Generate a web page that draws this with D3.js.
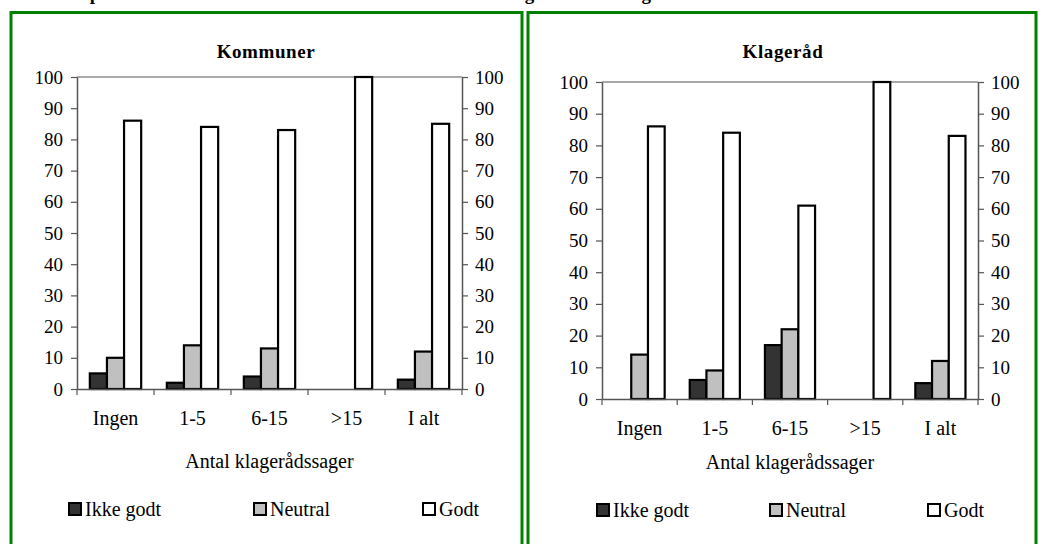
<!DOCTYPE html>
<html>
<head>
<meta charset="utf-8">
<script src="https://cdn.jsdelivr.net/npm/d3@7"></script>
<style>
  html, body { margin: 0; padding: 0; background: #fff; }
  svg { display: block; }
  text { font-family: "Liberation Serif", "Times New Roman", serif; fill: #000; }
</style>
</head>
<body>
<div id="chart"></div>
<script>
// data
const categories = ['Ingen', '1-5', '6-15', '>15', 'I alt'];
const seriesNames = ['Ikke godt', 'Neutral', 'Godt'];
const yTicks = [0, 10, 20, 30, 40, 50, 60, 70, 80, 90, 100];

const kommunerIkkeGodt = [5, 2, 4, 0, 3];
const kommunerNeutral = [10, 14, 13, 0, 12];
const kommunerGodt = [86, 84, 83, 100, 85];

const klageraadIkkeGodt = [0, 6, 17, 0, 5];
const klageraadNeutral = [14, 9, 22, 0, 12];
const klageraadGodt = [86, 84, 61, 100, 83];

const colors = d3.scaleOrdinal().domain(seriesNames).range(['#333333', '#c0c0c0', '#ffffff']);

const width = 1040, height = 544;

const svg = d3.select('#chart').append('svg')
    .attr('width', width)
    .attr('height', height);

// overskrift, skåret af i toppen som i originalen (kun underlængder ses)
svg.append('text')
    .attr('x', 75)
    .attr('y', 0)
    .style('font-weight', 'bold')
    .style('font-size', '19px')
    .text('Opfattelse af kontakten mellem de enkelte kommuner og de lokale klageråd');

const panels = [
    {
        title: 'Kommuner',
        series: [kommunerIkkeGodt, kommunerNeutral, kommunerGodt],
        box: { x: 11, y: 12.5, w: 511 },
        plot: { left: 77, right: 462, top: 77, bottom: 389 },
        titleX: 266, labelY: 425, axisTitleY: 468,
        legendX: [68, 253, 422], legendY: 502
    },
    {
        title: 'Klageråd',
        series: [klageraadIkkeGodt, klageraadNeutral, klageraadGodt],
        box: { x: 528, y: 12.5, w: 508 },
        plot: { left: 602, right: 978, top: 82, bottom: 399 },
        titleX: 783, labelY: 435, axisTitleY: 469,
        legendX: [596, 769, 927], legendY: 503
    }
];

function drawPanel (p) {
    const g = svg.append('g');

    // grøn ramme
    g.append('rect')
        .attr('x', p.box.x)
        .attr('y', p.box.y)
        .attr('width', p.box.w)
        .attr('height', 600)
        .attr('fill', 'none')
        .attr('stroke', '#008000')
        .attr('stroke-width', 3);

    g.append('text')
        .attr('x', p.titleX)
        .attr('y', 58)
        .attr('text-anchor', 'middle')
        .style('font-weight', 'bold')
        .style('font-size', '19px')
        .style('letter-spacing', '0.6px')
        .text(p.title);

    const x = d3.scaleBand()
        .domain(categories)
        .range([p.plot.left, p.plot.right]);
    const x1 = d3.scaleBand()
        .domain(seriesNames)
        .range([0, x.bandwidth()])
        .paddingInner(0)
        .paddingOuter(0.75);
    const y = d3.scaleLinear()
        .domain([0, 100])
        .range([p.plot.bottom, p.plot.top]);

    // top kant af plotområdet
    g.append('line')
        .attr('x1', p.plot.left).attr('x2', p.plot.right)
        .attr('y1', p.plot.top).attr('y2', p.plot.top)
        .attr('stroke', '#8c8c8c')
        .attr('stroke-width', 1.5);

    // søjler
    const rows = [];
    seriesNames.forEach((s, si) => {
        categories.forEach((c, ci) => {
            rows.push({ serie: s, cat: c, value: p.series[si][ci] });
        });
    });
    g.selectAll('rect.bar')
        .data(rows.filter(d => d.value > 0))
        .enter()
        .append('rect')
        .attr('class', 'bar')
        .attr('x', d => x(d.cat) + x1(d.serie))
        .attr('y', d => y(d.value))
        .attr('width', x1.bandwidth())
        .attr('height', d => y(0) - y(d.value))
        .attr('fill', d => colors(d.serie))
        .attr('stroke', '#000')
        .attr('stroke-width', 2.2);

    // y-akser
    const left = g.append('g')
        .attr('transform', `translate(${p.plot.left},0)`)
        .call(d3.axisLeft(y).tickValues(yTicks).tickSize(6).tickPadding(8).tickSizeOuter(0));
    const right = g.append('g')
        .attr('transform', `translate(${p.plot.right},0)`)
        .call(d3.axisRight(y).tickValues(yTicks).tickSize(6).tickPadding(7).tickSizeOuter(0));
    [left, right].forEach(a => {
        a.select('.domain').attr('stroke', '#555').attr('stroke-width', 1.5);
        a.selectAll('.tick line').attr('stroke', '#555').attr('stroke-width', 1.2);
        a.selectAll('.tick text')
            .style('font-size', '19px')
            .style('font-family', '"Liberation Serif", serif')
            .attr('fill', '#000');
    });

    // x-akse med streger mellem kategorierne
    const xa = g.append('g')
        .attr('transform', `translate(0,${p.plot.bottom})`)
        .call(d3.axisBottom(x).tickSize(0).tickPadding(0).tickSizeOuter(0));
    xa.select('.domain').attr('stroke', '#555').attr('stroke-width', 1.5);
    xa.selectAll('.tick text')
        .attr('y', p.labelY - p.plot.bottom)
        .attr('dy', 0)
        .style('font-size', '20px')
        .style('font-family', '"Liberation Serif", serif')
        .attr('fill', '#000');
    const bounds = categories.map(c => x(c)).concat([p.plot.right]);
    xa.selectAll('line.sep')
        .data(bounds)
        .enter()
        .append('line')
        .attr('class', 'sep')
        .attr('x1', d => d).attr('x2', d => d)
        .attr('y1', 0).attr('y2', 6)
        .attr('stroke', '#555')
        .attr('stroke-width', 1.2);

    g.append('text')
        .attr('x', (p.plot.left + p.plot.right) / 2)
        .attr('y', p.axisTitleY)
        .attr('text-anchor', 'middle')
        .style('font-size', '20px')
        .text('Antal klagerådssager');

    // forklaring
    const lg = g.selectAll('g.legend')
        .data(seriesNames)
        .enter()
        .append('g')
        .attr('class', 'legend')
        .attr('transform', (d, i) => `translate(${p.legendX[i]},${p.legendY})`);
    lg.append('rect')
        .attr('x', 1).attr('y', 1)
        .attr('width', 12).attr('height', 12)
        .attr('fill', d => colors(d))
        .attr('stroke', '#000')
        .attr('stroke-width', 2);
    lg.append('text')
        .attr('x', 17)
        .attr('y', 14)
        .style('font-size', '20px')
        .text(d => d);
}

panels.forEach(drawPanel);
</script>
</body>
</html>
